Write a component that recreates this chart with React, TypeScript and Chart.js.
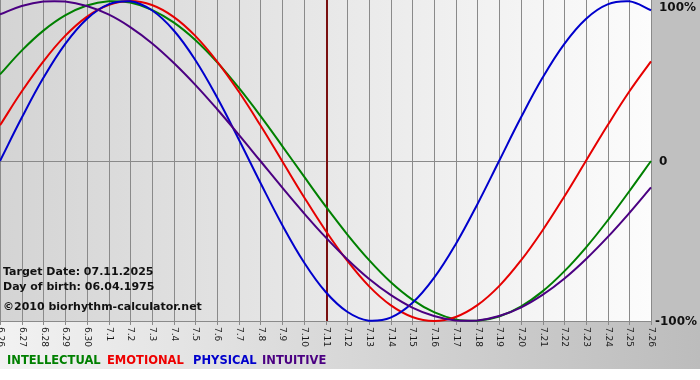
import React, { useEffect, useRef } from "react";
import { Chart, registerables } from "chart.js";

Chart.register(...registerables);

const dates = [
  "6.26", "6.27", "6.28", "6.29", "6.30", "7.1", "7.2", "7.3", "7.4", "7.5", "7.6",
  "7.7", "7.8", "7.9", "7.10", "7.11", "7.12", "7.13", "7.14", "7.15", "7.16",
  "7.17", "7.18", "7.19", "7.20", "7.21", "7.22", "7.23", "7.24", "7.25", "7.26",
];

const intellectual = [
  54.1, 69.0, 81.5, 91.0, 97.2, 99.9, 99.0, 94.5, 86.6, 75.6, 61.8, 45.8, 28.2, 9.5,
  -9.5, -28.2, -45.8, -61.8, -75.6, -86.6, -94.5, -99.0, -99.9, -97.2, -91.0, -81.5,
  -69.0, -54.1, -37.2, -18.9, 0,
];

const emotional = [
  22.3, 43.4, 62.3, 78.2, 90.1, 97.5, 100, 97.5, 90.1, 78.2, 62.3, 43.4, 22.3, 0,
  -22.3, -43.4, -62.3, -78.2, -90.1, -97.5, -100, -97.5, -90.1, -78.2, -62.3, -43.4,
  -22.3, 0, 22.3, 43.4, 62.3,
];

const physical = [
  0, 27.0, 52.0, 73.1, 88.8, 97.9, 99.8, 94.2, 81.7, 63.1, 39.8, 13.6, -13.6, -39.8,
  -63.1, -81.7, -94.2, -99.8, -97.9, -88.8, -73.1, -52.0, -27.0, 0, 27.0, 52.0, 73.1,
  88.8, 97.9, 99.8, 94.2,
];

const intuitive = [
  91.6, 96.9, 99.7, 99.7, 96.9, 91.6, 83.7, 73.6, 61.4, 47.6, 32.5, 16.5, 0, -16.5,
  -32.5, -47.6, -61.4, -73.6, -83.7, -91.6, -96.9, -99.7, -99.7, -96.9, -91.6, -83.7,
  -73.6, -61.4, -47.6, -32.5, -16.5,
];

const yLabels = [
  { value: 100, text: "100%" },
  { value: 0, text: "0" },
  { value: -100, text: "-100%" },
];

const targetDate = "7.11";
const infoLines = [
  "Target Date: 07.11.2025",
  "Day of birth: 06.04.1975",
  "\u00a92010 biorhythm-calculator.net",
];

const legendItems = [
  { text: "INTELLECTUAL", color: "#008000" },
  { text: "EMOTIONAL", color: "#ee0000" },
  { text: "PHYSICAL", color: "#0000cc" },
  { text: "INTUITIVE", color: "#4b0082" },
];

const W = 700;
const H = 380;
const legendX = [7, 107, 193, 262];

const decorPlugin = {
  id: "decor",
  beforeDraw(chart: any) {
    const ctx = chart.ctx as CanvasRenderingContext2D;
    const { left, right, bottom } = chart.chartArea;
    const x = chart.scales.x;
    const y = chart.scales.y;
    ctx.save();
    const og = ctx.createLinearGradient(0, 0, W, 0);
    og.addColorStop(0, "#f2f2f2");
    og.addColorStop(1, "#bcbcbc");
    ctx.fillStyle = og;
    ctx.fillRect(0, 0, W, H);
    ctx.fillStyle = "#c0c0c0";
    ctx.fillRect(right, 0, W - right, bottom + 2);
    ctx.fillStyle = "#ffffff";
    ctx.fillRect(0, 369, W, H - 369);
    const pg = ctx.createLinearGradient(left, 0, right, 0);
    pg.addColorStop(0, "#d4d4d4");
    pg.addColorStop(1, "#fcfcfc");
    ctx.fillStyle = pg;
    ctx.fillRect(left, 0, right - left, bottom);

    ctx.strokeStyle = "#8a8a8a";
    ctx.lineWidth = 1;
    dates.forEach((d, i) => {
      const px = Math.round(x.getPixelForValue(i)) + 0.5;
      ctx.beginPath();
      ctx.moveTo(px, 0);
      ctx.lineTo(px, bottom + 4);
      ctx.stroke();
    });
    [0, -100].forEach((v) => {
      const py = Math.round(y.getPixelForValue(v)) + 0.5;
      ctx.beginPath();
      ctx.moveTo(left, py);
      ctx.lineTo(right, py);
      ctx.stroke();
    });

    ctx.fillStyle = "#1a1a1a";
    ctx.font = "9px 'DejaVu Sans'";
    ctx.textAlign = "left";
    ctx.textBaseline = "middle";
    dates.forEach((d, i) => {
      const px = x.getPixelForValue(i);
      ctx.save();
      ctx.translate(px + 0.5, bottom + 6);
      ctx.rotate(Math.PI / 2);
      ctx.fillText(d, 0, 0);
      ctx.restore();
    });

    ctx.fillStyle = "#111";
    ctx.font = "bold 12px 'DejaVu Sans'";
    ctx.textBaseline = "middle";
    yLabels.forEach((l) => {
      let py = y.getPixelForValue(l.value);
      if (l.value === 100) py += 6;
      const px = l.value < 0 ? right + 4 : right + 8;
      ctx.fillText(l.text, px, py + 1);
    });

    ctx.font = "bold 11.5px 'DejaVu Sans'";
    ctx.textBaseline = "middle";
    legendItems.forEach((it, i) => {
      ctx.fillStyle = it.color;
      ctx.fillText(it.text, legendX[i], 361);
    });
    ctx.restore();
  },
  beforeDatasetsDraw(chart: any) {
    const ctx = chart.ctx as CanvasRenderingContext2D;
    const { bottom } = chart.chartArea;
    const x = chart.scales.x;
    const i = dates.indexOf(targetDate);
    const px = Math.round(x.getPixelForValue(i));
    ctx.save();
    ctx.fillStyle = "#7a1010";
    ctx.fillRect(px, 0, 2, bottom);
    ctx.restore();
  },
  afterDatasetsDraw(chart: any) {
    const ctx = chart.ctx as CanvasRenderingContext2D;
    ctx.save();
    ctx.fillStyle = "#111";
    ctx.font = "bold 11px 'DejaVu Sans'";
    ctx.textBaseline = "middle";
    ctx.textAlign = "left";
    ctx.fillText(infoLines[0], 3, 272);
    ctx.fillText(infoLines[1], 3, 287);
    ctx.fillText(infoLines[2], 3, 307);
    ctx.restore();
  },
};

export default function App() {
  const ref = useRef<HTMLCanvasElement | null>(null);
  useEffect(() => {
    document.body.style.margin = "0";
    const canvas = ref.current;
    if (!canvas) return;
    const mk = (label: string, data: number[], color: string) => ({
      label,
      data,
      borderColor: color,
      backgroundColor: color,
      borderWidth: 2,
      pointRadius: 0,
      tension: 0.4,
      fill: false,
      clip: 4,
    });
    const chart = new Chart(canvas, {
      type: "line",
      data: {
        labels: dates,
        datasets: [
          mk("INTUITIVE", intuitive, "#4b0082"),
          mk("PHYSICAL", physical, "#0000cc"),
          mk("EMOTIONAL", emotional, "#e60000"),
          mk("INTELLECTUAL", intellectual, "#008000"),
        ],
      },
      options: {
        responsive: false,
        animation: false,
        layout: { padding: { left: 0, right: 49, top: 1, bottom: 59 } },
        plugins: { legend: { display: false }, tooltip: { enabled: false } },
        scales: {
          x: { display: false, offset: false },
          y: { display: false, min: -100, max: 100 },
        },
      },
      plugins: [decorPlugin],
    } as any);
    return () => chart.destroy();
  }, []);
  return (
    <div style={{ width: W, height: H }}>
      <canvas ref={ref} width={W} height={H} style={{ display: "block" }} />
    </div>
  );
}
